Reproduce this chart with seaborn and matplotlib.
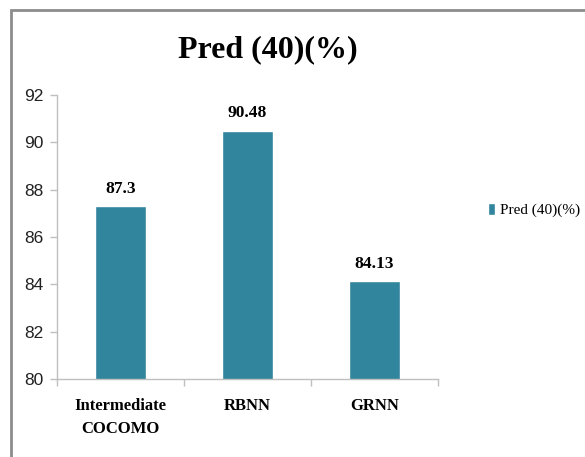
import pandas as pd
import matplotlib.pyplot as plt
import seaborn as sns
from matplotlib.patches import Rectangle
from matplotlib.ticker import FixedLocator

categories = ["Intermediate\nCOCOMO", "RBNN", "GRNN"]
values = [87.3, 90.48, 84.13]
value_labels = ["87.3", "90.48", "84.13"]
series_name = "Pred (40)(%)"
y_ticks = [80, 82, 84, 86, 88, 90, 92]

BAR_COLOR = "#31859C"
SERIF = ["Liberation Serif", "DejaVu Serif"]
SANS = ["Liberation Sans", "DejaVu Sans"]


def main():
    sns.set_style("white")
    plt.rcParams["text.color"] = "black"
    df = pd.DataFrame({"model": categories, "value": values, "series": series_name})

    fig = plt.figure(figsize=(5.85, 4.57), dpi=100)
    ax = fig.add_axes([57 / 585, 1 - 379 / 457, (438 - 57) / 585, (379 - 95) / 457])

    sns.barplot(data=df, x="model", y="value", hue="series", palette=[BAR_COLOR],
                width=0.4, saturation=1, ax=ax, legend=True)

    ax.set_ylim(80, 92)
    ax.set_xlim(-0.5, len(categories) - 0.5)
    ax.set_yticks(y_ticks)
    ax.set_yticklabels([str(t) for t in y_ticks], fontfamily=SANS, fontsize=12.5,
                       color="#222222")
    ax.set_xticks(range(len(categories)))
    ax.set_xticklabels(categories, fontfamily=SERIF, fontweight="bold", fontsize=12,
                       linespacing=1.55, color="black")
    ax.xaxis.set_minor_locator(FixedLocator([-0.5, 0.5, 1.5, 2.5]))
    ax.tick_params(axis="x", which="major", length=0, pad=14)
    ax.tick_params(axis="x", which="minor", length=5, color="#BFBFBF", width=1, bottom=True)
    ax.tick_params(axis="y", length=5, color="#BFBFBF", width=1, left=True, pad=5)
    ax.set_xlabel("")
    ax.set_ylabel("")

    for side in ["top", "right"]:
        ax.spines[side].set_visible(False)
    for side in ["left", "bottom"]:
        ax.spines[side].set_color("#BFBFBF")
        ax.spines[side].set_linewidth(1)

    for container in ax.containers:
        ax.bar_label(container, labels=value_labels, padding=7, color="black",
                     fontfamily=SERIF, fontweight="bold", fontsize=12.5)

    ax.legend(loc="center left", bbox_to_anchor=(474 / 585, 1 - 210 / 457),
              bbox_transform=fig.transFigure, frameon=False,
              handlelength=0.5, handleheight=0.9, handletextpad=0.3,
              prop={"family": SERIF, "size": 11}, labelcolor="black")

    fig.text(268 / 585, 1 - 50 / 457, "Pred (40)(%)", ha="center", va="center",
             fontfamily=SERIF, fontweight="bold", fontsize=23, color="black")

    # outer chart frame
    fig.patches.append(Rectangle((11 / 585, -0.05), 1.2, 1 - 10 / 457 + 0.05,
                                 transform=fig.transFigure, fill=False,
                                 edgecolor="#8C8C8C", linewidth=2))

    fig.savefig("out.png", dpi=100)


if __name__ == "__main__":
    main()
